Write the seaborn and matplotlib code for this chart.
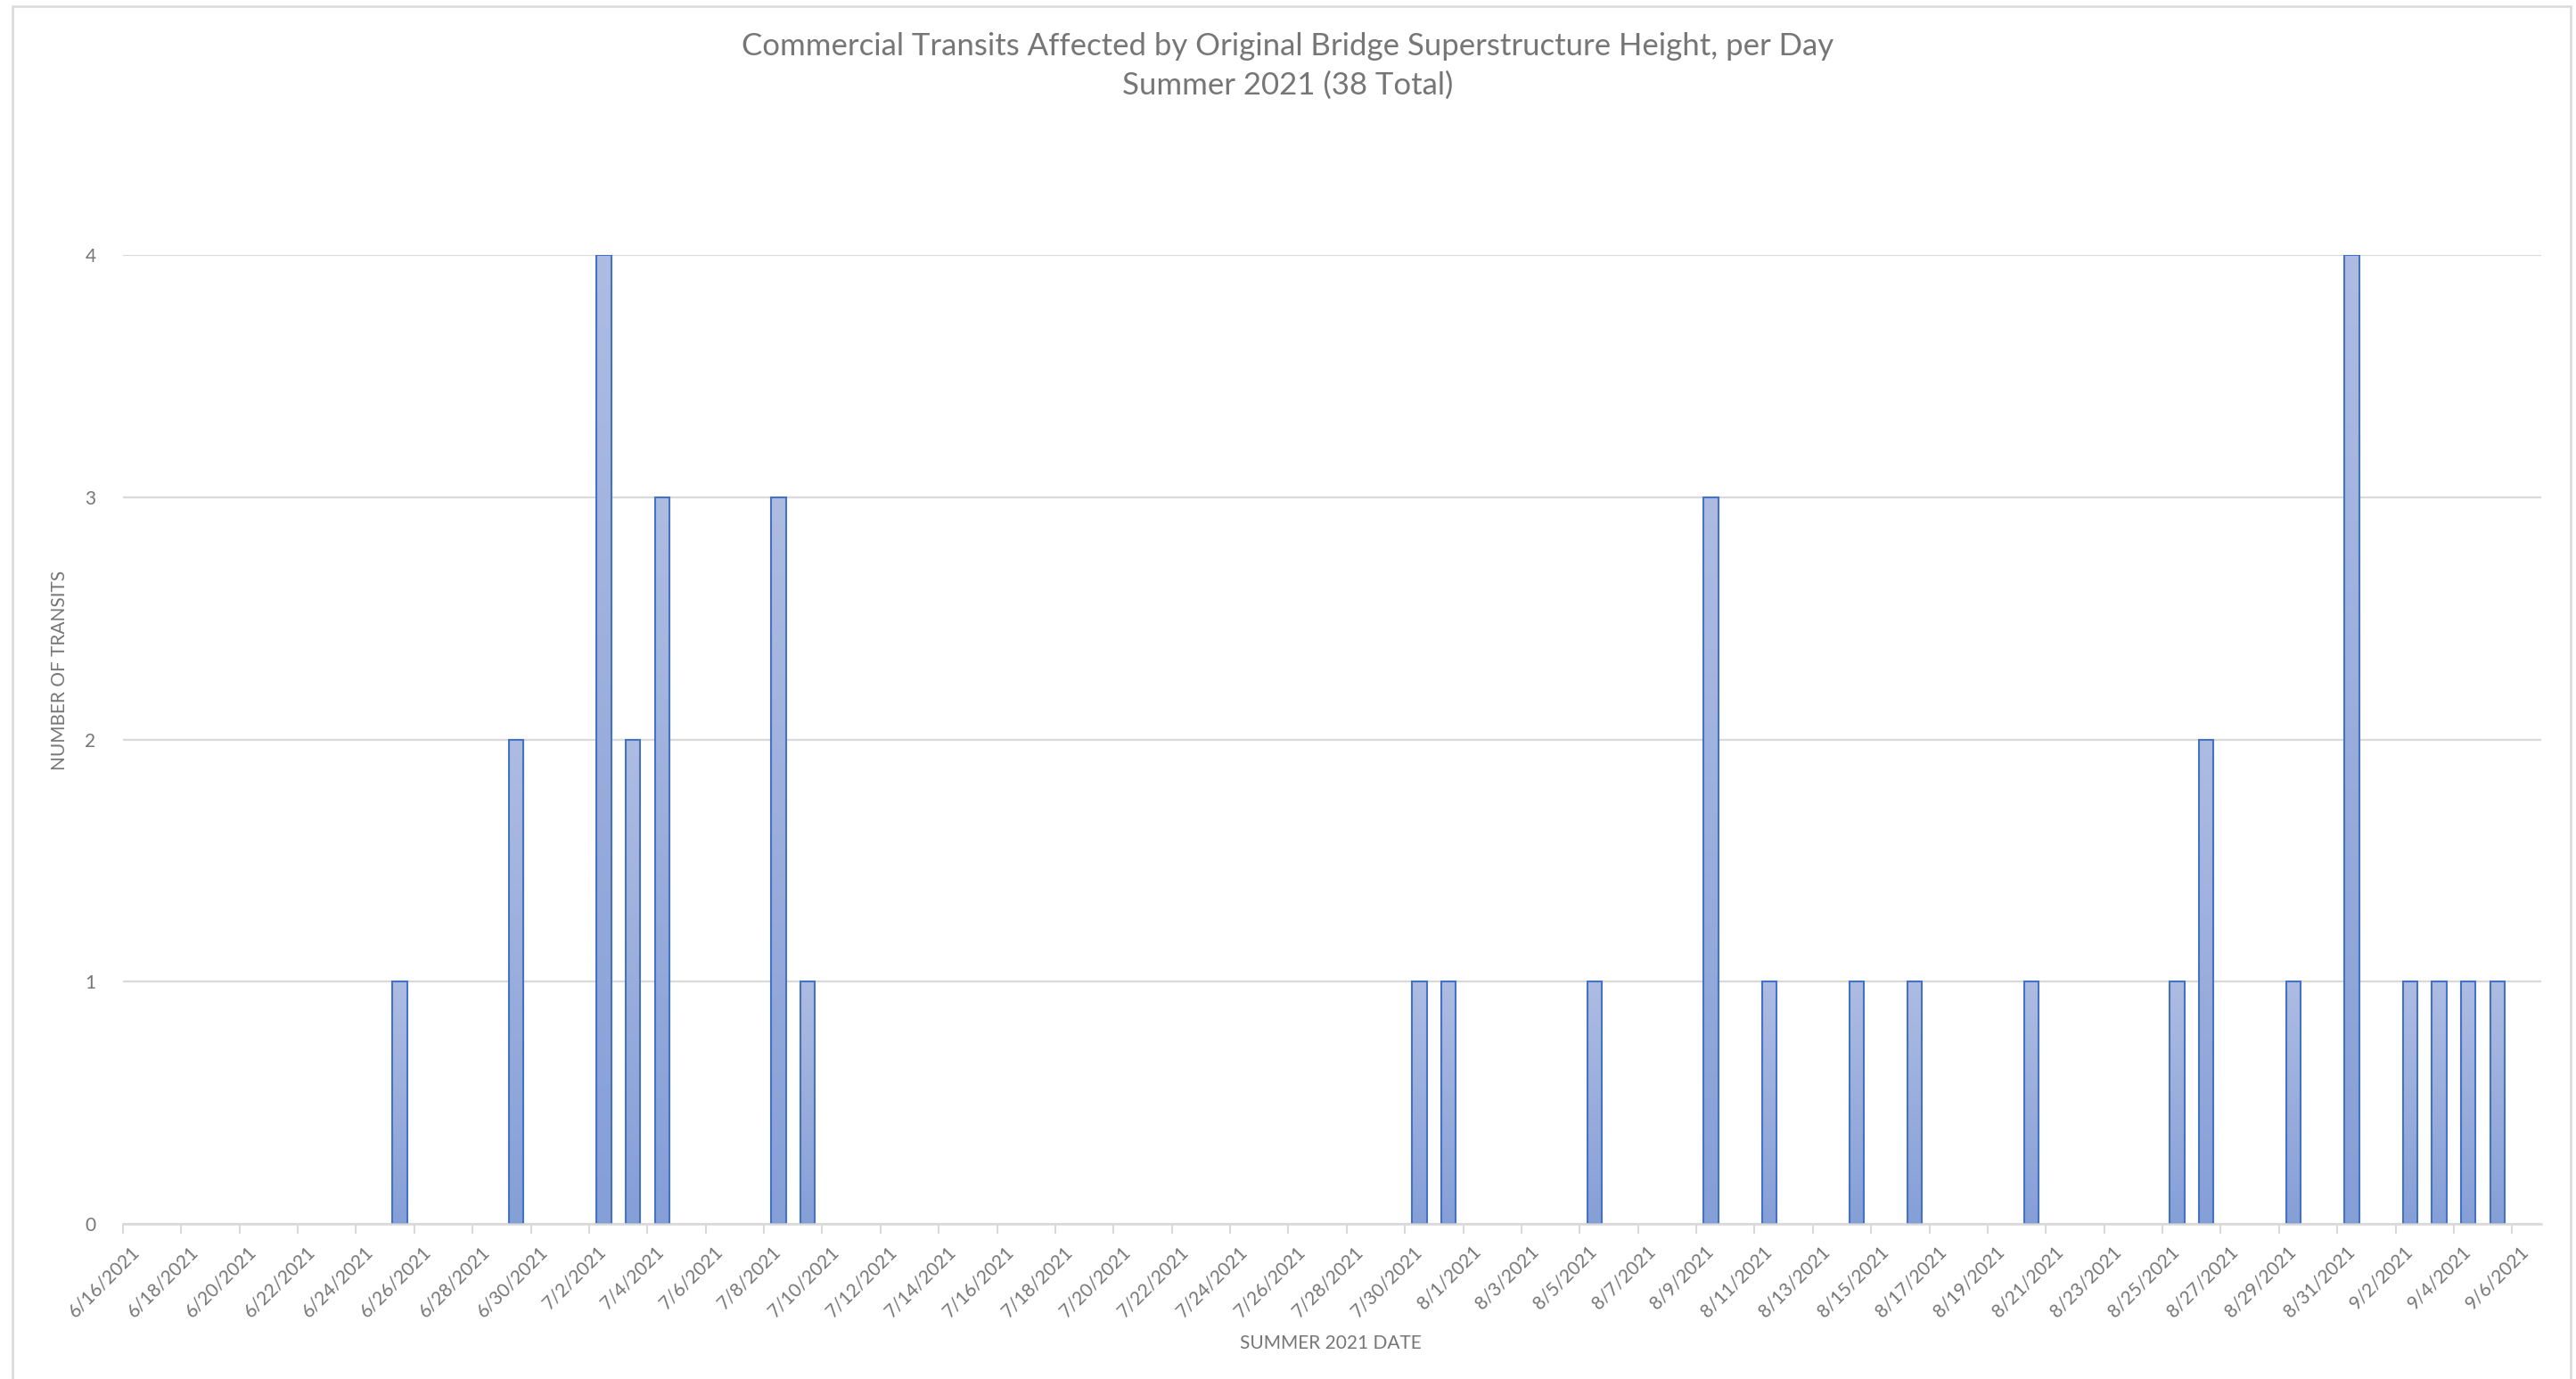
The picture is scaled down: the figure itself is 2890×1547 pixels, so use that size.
import numpy as np
import pandas as pd
import matplotlib
matplotlib.use("Agg")
import matplotlib.pyplot as plt
import seaborn as sns
from matplotlib.transforms import ScaledTranslation
from matplotlib.patches import Rectangle
from matplotlib.colors import LinearSegmentedColormap

# ---------------- data ----------------
start_date = "2021-06-16"
end_date = "2021-09-06"
transit_dates = ["2021-06-25", "2021-06-29", "2021-07-02", "2021-07-03", "2021-07-04",
                 "2021-07-08", "2021-07-09", "2021-07-30", "2021-07-31", "2021-08-05",
                 "2021-08-09", "2021-08-11", "2021-08-14", "2021-08-16", "2021-08-20",
                 "2021-08-25", "2021-08-26", "2021-08-29", "2021-08-31", "2021-09-02",
                 "2021-09-03", "2021-09-04", "2021-09-05"]
transits = [1, 2, 4, 2, 3, 3, 1, 1, 1, 1, 3, 1, 1, 1, 1, 1, 2, 1, 4, 1, 1, 1, 1]
y_ticks = [0, 1, 2, 3, 4]
title_line1 = "Commercial Transits Affected by Original Bridge Superstructure Height, per Day"
title_line2 = "Summer 2021 (38 Total)"
x_title = "SUMMER 2021 DATE"
y_title = "NUMBER OF TRANSITS"

# ---------------- styling ----------------
sns.set_theme(style="white")
plt.rcParams["font.family"] = ["Lato", "DejaVu Sans"]
TEXT = "#767676"
GRID = "#d9d9d9"
EDGE = "#4472C4"
TOP_C = "#aebce2"
BOT_C = "#859fd7"

W, H = 2890, 1547
fig = plt.figure(figsize=(W / 100, H / 100), dpi=100)
fig.patch.set_facecolor("white")

ax_l, ax_r, ax_t, ax_b = 138, 2851, 286, 1373
ax = fig.add_axes([ax_l / W, 1 - ax_b / H, (ax_r - ax_l) / W, (ax_b - ax_t) / H])

start = pd.Timestamp(start_date)
end = pd.Timestamp(end_date)
n_days = (end - start).days + 1
df = pd.DataFrame({"day": (pd.to_datetime(transit_dates) - start).days.astype(float),
                   "transits": transits})

sns.barplot(data=df, x="day", y="transits", native_scale=True, width=0.5,
            color=TOP_C, edgecolor=EDGE, linewidth=1.5, errorbar=None, ax=ax, zorder=3)

# per-bar vertical gradient fill
cmap = LinearSegmentedColormap.from_list("g", [TOP_C, BOT_C])
grad = np.linspace(0, 1, 256).reshape(-1, 1)
for p in list(ax.patches):
    h = p.get_height()
    if h <= 0:
        continue
    x0, w = p.get_x(), p.get_width()
    im = ax.imshow(grad, extent=[x0, x0 + w, 0, h], cmap=cmap, aspect="auto",
                   origin="upper", zorder=2.9, interpolation="bilinear")
    im.set_clip_path(p)
    p.set_facecolor("none")

ax.set_xlim(-0.5, n_days - 0.5)
ax.set_ylim(0, 4)

# grid / spines
ax.set_yticks(y_ticks)
ax.set_yticklabels([str(v) for v in y_ticks])
ax.yaxis.grid(True, color=GRID, linewidth=1.6)
ax.xaxis.grid(False)
ax.set_axisbelow(True)
for s in ["top", "left", "right"]:
    ax.spines[s].set_visible(False)
ax.spines["bottom"].set_color(GRID)
ax.spines["bottom"].set_linewidth(1.8)
ax.spines["bottom"].set_zorder(4)

tick_days = pd.date_range(start, end, freq="2D")
tick_pos = [(d - start).days - 0.5 for d in tick_days]
tick_labels = [f"{d.month}/{d.day}/{d.year}" for d in tick_days]
ax.set_xticks(tick_pos)
ax.set_xticklabels(tick_labels, rotation=45, ha="right", va="center",
                   rotation_mode="anchor", fontsize=15, color=TEXT)
ax.tick_params(axis="x", length=8, width=1.5, color=GRID, direction="out", pad=12,
               bottom=True)
ax.tick_params(axis="y", length=0, pad=22, labelsize=15, labelcolor=TEXT)
off = ScaledTranslation(16 / 100, 0, fig.dpi_scale_trans)
for lab in ax.get_xticklabels():
    lab.set_transform(lab.get_transform() + off)

ax.set_xlabel("")
ax.set_ylabel("")

# titles
fig.text(0.5, 1 - 52 / H, title_line1, ha="center", va="center", fontsize=25, color=TEXT)
fig.text(0.5, 1 - 96 / H, title_line2, ha="center", va="center", fontsize=25, color=TEXT)
fig.text(1493 / W, 1 - 1507 / H, x_title, ha="center", va="center", fontsize=15, color=TEXT)
fig.text(67 / W, 1 - 752 / H, y_title, ha="center", va="center", rotation=90,
         fontsize=15, color=TEXT)

# outer chart border
fig.add_artist(Rectangle((14 / W, -0.05), (2884 - 14) / W, 1.05 - 7 / H,
                         transform=fig.transFigure, fill=False, ec=GRID, lw=1.8))

fig.savefig("out.png", dpi=100, facecolor="white")
